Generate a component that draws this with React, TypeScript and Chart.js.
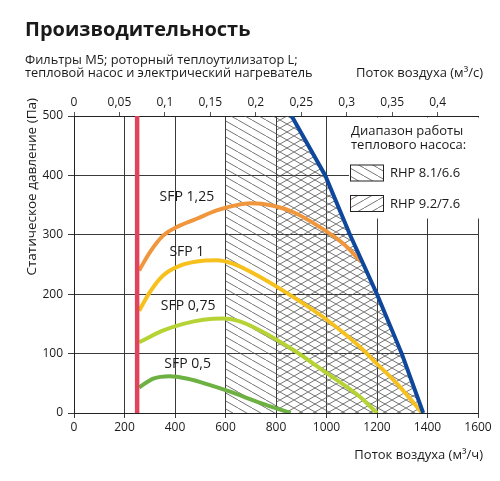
import React, { useEffect, useRef } from 'react';
import { Chart, registerables } from 'chart.js';

Chart.register(...registerables);

const FONT = '"Open Sans", "Noto Sans", sans-serif';
const TEXT = '#1a1a1a';
const GRID = '#3a3a3a';

// ---- texts ----
const chartTitle = 'Производительность';
const subtitleLines = ['Фильтры M5; роторный теплоутилизатор L;', 'тепловой насос и электрический нагреватель'];
const topAxisTitle = 'Поток воздуха (м³/с)';
const bottomAxisTitle = 'Поток воздуха (м³/ч)';
const yAxisTitle = 'Статическое давление (Па)';
const legendTitle = ['Диапазон работы', 'теплового насоса:'];
const rangeNames = ['RHP 8.1/6.6', 'RHP 9.2/7.6'];
const sfpNames = ['SFP 1,25', 'SFP 1', 'SFP 0,75', 'SFP 0,5'];

// ---- axes ----
const flowMin = 0;
const flowMax = 1600; // m3/h
const flowStep = 200;
const pressureMin = 0;
const pressureMax = 500;
const pressureStep = 100;
const m3sStep = 0.05;

// ---- series (flow m3/h, pressure Pa) ----
const sfp125Flow = [258, 301, 354, 407, 486, 565, 644, 697, 789, 869, 974, 1067, 1139];
const sfp125Pa = [240, 271, 299, 313, 327, 341, 350, 353, 349, 338, 313, 285, 254];

const sfp1Flow = [258, 301, 354, 420, 486, 565, 631, 737, 869, 1001, 1133, 1199, 1278, 1357, 1378];
const sfp1Pa = [172, 204, 232, 248, 255, 257, 251, 229, 195, 157, 111, 83, 50, 11, 0];

const sfp075Flow = [258, 354, 433, 512, 591, 650, 737, 869, 1001, 1133, 1200];
const sfp075Pa = [119, 139, 150, 157, 159, 155, 139, 106, 67, 27, 0];

const sfp05Flow = [258, 314, 380, 446, 539, 618, 737, 858];
const sfp05Pa = [43, 58, 62, 58, 47, 36, 17, 0];

// max flow line (blue)
const maxFlow = [862, 995, 1093, 1200, 1298, 1383];
const maxPa = [500, 400, 300, 200, 100, 0];

// min flow line (red)
const minFlow = [250, 250];
const minPa = [0, 500];

// heat pump ranges: start flow, bounded by max line
const rangeStartFlow = [600, 800];

// SFP label anchors (data units)
const sfpLabelFlow = [447, 447, 452, 450];
const sfpLabelPa = [364, 271, 180, 82];

const zip = (xs: number[], ys: number[]) => xs.map((x, i) => ({ x, y: ys[i] }));

function makeHatch(dir: 'back' | 'fwd'): CanvasPattern | string {
  const w = 14;
  const h = 8;
  const c = document.createElement('canvas');
  c.width = w;
  c.height = h;
  const g = c.getContext('2d');
  if (!g) return 'rgba(0,0,0,0.2)';
  g.strokeStyle = '#505050';
  g.lineWidth = 0.8;
  g.beginPath();
  for (const off of [-w, 0, w]) {
    if (dir === 'back') {
      g.moveTo(off, 0);
      g.lineTo(off + w, h);
    } else {
      g.moveTo(off, h);
      g.lineTo(off + w, 0);
    }
  }
  g.stroke();
  const p = g.createPattern(c, 'repeat');
  return p || 'rgba(0,0,0,0.2)';
}

const fmtComma = (v: number) => String(Math.round(v * 100) / 100).replace('.', ',');
const fmtPlain = (v: number) => String(Math.round(Number(v)));

export default function App() {
  const ref = useRef<HTMLCanvasElement>(null);

  useEffect(() => {
    document.body.style.margin = '0';
    const canvas = ref.current;
    if (!canvas) return;

    const hatches = [makeHatch('back'), makeHatch('fwd')];

    const rangeData = rangeStartFlow.map((start) => [
      { x: start, y: pressureMax },
      ...zip(maxFlow, maxPa),
    ]);

    const curve = (data: { x: number; y: number }[], color: string) => ({
      type: 'line' as const,
      data,
      borderColor: color,
      borderWidth: 4,
      pointRadius: 0,
      fill: false,
      tension: 0.4,
      cubicInterpolationMode: 'monotone' as const,
      borderCapStyle: 'butt' as const,
      order: 3,
    });

    const decor = {
      id: 'decor',
      afterDraw(chart: any) {
        const { ctx, chartArea, scales } = chart;
        const xs = scales.x;
        const ys = scales.y;
        ctx.save();
        ctx.fillStyle = TEXT;

        // main title + subtitle
        ctx.textBaseline = 'middle';
        ctx.textAlign = 'left';
        ctx.font = `bold 20px ${FONT}`;
        ctx.fillText(chartTitle, 25, 30);
        ctx.font = `12.8px ${FONT}`;
        ctx.fillText(subtitleLines[0], 25, 60);
        ctx.fillText(subtitleLines[1], 25, 73);

        // axis titles
        ctx.font = `13px ${FONT}`;
        ctx.textAlign = 'right';
        ctx.fillText(topAxisTitle, 483, 73);
        ctx.fillText(bottomAxisTitle, 483, 455);
        ctx.save();
        ctx.font = `13.5px ${FONT}`;
        ctx.translate(32, 98);
        ctx.rotate(-Math.PI / 2);
        ctx.textAlign = 'right';
        ctx.fillText(yAxisTitle, 0, 0);
        ctx.restore();

        // SFP labels
        ctx.textAlign = 'center';
        ctx.font = `14px ${FONT}`;
        sfpNames.forEach((name, i) => {
          ctx.fillText(name, xs.getPixelForValue(sfpLabelFlow[i]), ys.getPixelForValue(sfpLabelPa[i]));
        });

        // legend
        const lx = chartArea.right - 129;
        const ly = chartArea.top + 1.5;
        ctx.fillStyle = '#ffffff';
        ctx.fillRect(lx, ly, chartArea.right + 1 - lx, 101);
        ctx.fillStyle = TEXT;
        ctx.textAlign = 'left';
        ctx.font = `13px ${FONT}`;
        ctx.fillText(legendTitle[0], lx + 2, ly + 14);
        ctx.fillText(legendTitle[1], lx + 2, ly + 27.5);
        rangeNames.forEach((name, i) => {
          const by = ly + 47.5 + i * 30.5;
          ctx.fillStyle = hatches[i];
          ctx.fillRect(lx + 1.5, by, 33, 16);
          ctx.strokeStyle = '#222';
          ctx.lineWidth = 1;
          ctx.strokeRect(lx + 1.5, by, 33, 16);
          ctx.fillStyle = TEXT;
          ctx.fillText(name, lx + 41, by + 8.5);
        });
        ctx.restore();
      },
    };

    const chart = new Chart(canvas, {
      type: 'line',
      data: {
        datasets: [
          {
            type: 'line',
            data: zip(minFlow, minPa),
            borderColor: '#e2435c',
            borderWidth: 4.5,
            pointRadius: 0,
            tension: 0,
            fill: false,
            borderCapStyle: 'butt',
            order: 1,
          },
          {
            type: 'line',
            data: zip(maxFlow, maxPa),
            borderColor: '#0e479b',
            borderWidth: 4,
            pointRadius: 0,
            tension: 0,
            fill: false,
            order: 2,
          },
          curve(zip(sfp125Flow, sfp125Pa), '#f0963c'),
          curve(zip(sfp1Flow, sfp1Pa), '#f6c11e'),
          curve(zip(sfp075Flow, sfp075Pa), '#b6d335'),
          curve(zip(sfp05Flow, sfp05Pa), '#6cb142'),
          ...rangeData.map((d, i) => ({
            type: 'line' as const,
            label: rangeNames[i],
            data: d,
            borderWidth: 0,
            borderColor: 'rgba(0,0,0,0)',
            backgroundColor: hatches[i] as any,
            pointRadius: 0,
            tension: 0,
            fill: 'origin' as const,
            order: 5 + i,
          })),
        ] as any,
      },
      options: {
        responsive: false,
        animation: false,
        events: [],
        layout: { padding: { left: 0, right: 22, top: 0, bottom: 0 } },
        plugins: {
          legend: { display: false },
          tooltip: { enabled: false },
          title: { display: false },
        },
        scales: {
          x: {
            type: 'linear',
            position: 'bottom',
            min: flowMin,
            max: flowMax,
            afterFit: (s: any) => {
              s.height = 68;
            },
            ticks: {
              stepSize: flowStep,
              color: TEXT,
              font: { family: FONT, size: 12 },
              padding: 2,
              maxRotation: 0,
              callback: (v: any) => fmtPlain(v),
            },
            grid: { color: GRID, lineWidth: 1, tickLength: 5 },
            border: { color: '#222', width: 1 },
          },
          x2: {
            type: 'linear',
            position: 'top',
            min: flowMin / 3600,
            max: flowMax / 3600,
            afterFit: (s: any) => {
              s.height = 116;
            },
            ticks: {
              stepSize: m3sStep,
              includeBounds: false,
              color: TEXT,
              font: { family: FONT, size: 12 },
              padding: 2,
              maxRotation: 0,
              callback: (v: any) => fmtComma(Number(v)),
            },
            grid: { drawOnChartArea: false, color: '#555', tickLength: 4 },
            border: { color: '#222', width: 1 },
          },
          y: {
            type: 'linear',
            position: 'left',
            min: pressureMin,
            max: pressureMax,
            afterFit: (s: any) => {
              s.width = 74;
            },
            ticks: {
              stepSize: pressureStep,
              color: TEXT,
              font: { family: FONT, size: 12 },
              padding: 5,
              callback: (v: any) => fmtPlain(v),
            },
            grid: { color: GRID, lineWidth: 1, tickLength: 6 },
            border: { color: '#222', width: 1 },
          },
        },
      } as any,
      plugins: [decor],
    });

    return () => chart.destroy();
  }, []);

  return (
    <div style={{ width: 500, height: 481 }}>
      <canvas ref={ref} width={500} height={481} style={{ display: 'block' }} />
    </div>
  );
}
